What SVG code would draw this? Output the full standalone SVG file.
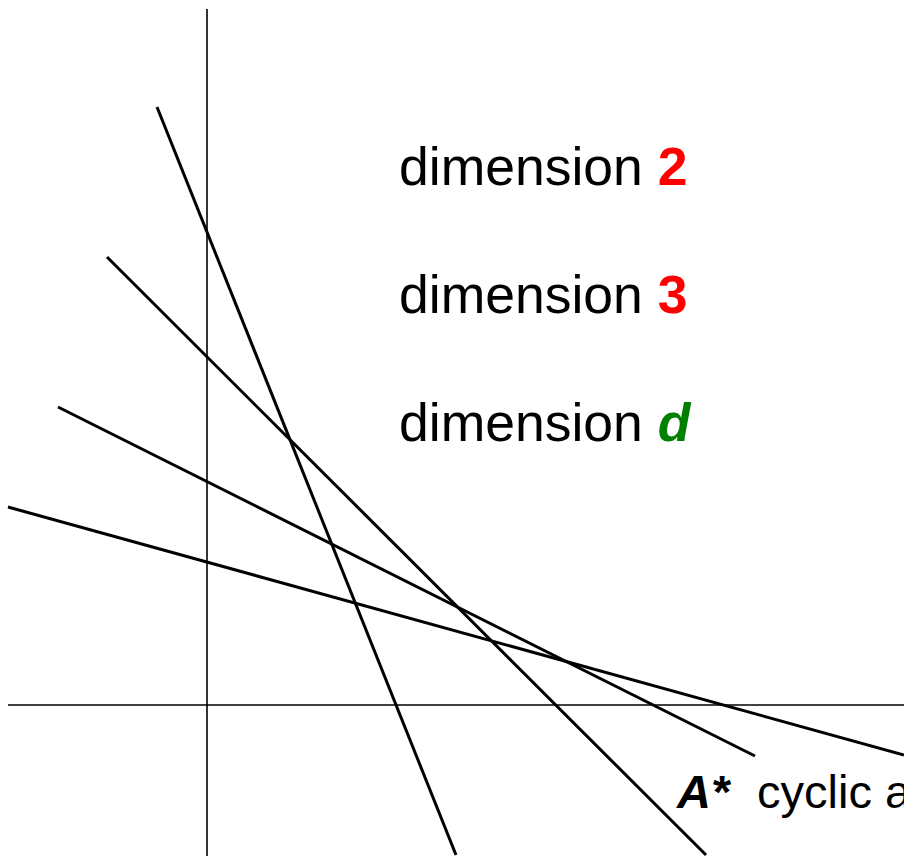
<svg xmlns="http://www.w3.org/2000/svg" width="904" height="858" viewBox="0 0 904 858">
<style>
.axis{stroke:#000;stroke-width:1.6;fill:none}
.ln{stroke:#000;stroke-width:3;fill:none}
.lbl{font-family:"Liberation Sans",Arial,sans-serif;font-size:53.5px;fill:#000}
.red{fill:#ff0000;font-weight:bold}
.grn{fill:#008000;font-weight:bold;font-style:italic}
.cap{font-family:"Liberation Sans",Arial,sans-serif;font-size:47px;fill:#000}
</style>
<rect width="904" height="858" fill="#fff"/>
<g id="connectors">
<line class="axis" x1="207" y1="9" x2="207" y2="856"/>
<line class="axis" x1="8" y1="705" x2="904" y2="705"/>
<line class="ln" x1="157" y1="107" x2="456" y2="855"/>
<line class="ln" x1="107" y1="257" x2="706" y2="855"/>
<line class="ln" x1="58" y1="407" x2="755" y2="756"/>
<line class="ln" x1="8" y1="507" x2="904" y2="755"/>
</g>
<g id="label-dim2"><text class="lbl" x="399" y="185">dimension <tspan class="red">2</tspan></text></g>
<g id="label-dim3"><text class="lbl" x="399" y="313">dimension <tspan class="red">3</tspan></text></g>
<g id="label-dimd"><text class="lbl" x="399" y="441">dimension <tspan class="grn">d</tspan></text></g>
<g id="label-astar"><text class="cap" x="677" y="808"><tspan font-weight="bold" font-style="italic">A*</tspan><tspan x="757">cyclic a</tspan></text></g>
</svg>
